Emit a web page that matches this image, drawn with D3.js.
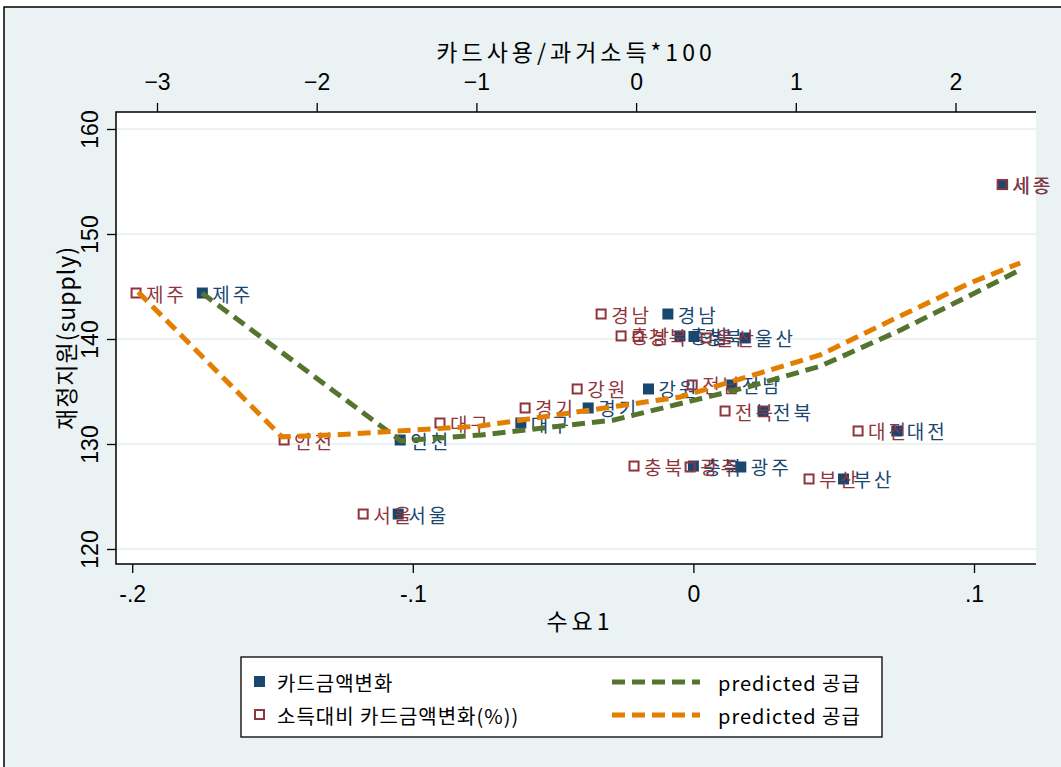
<!DOCTYPE html>
<html>
<head>
<meta charset="utf-8">
<script src="https://cdn.jsdelivr.net/npm/d3@7"></script>
<style>
  body { margin: 0; background: #fff; }
  svg { display: block; }
  .kr { font-family: "Noto Sans CJK KR", "Noto Sans", sans-serif; }
  .num { font-family: "Liberation Sans", Arial, sans-serif; }
</style>
</head>
<body>
<svg id="chart" width="1061" height="767"></svg>
<script>
// region names
const regions = ["제주", "인천", "서울", "대구", "경기", "강원", "경남", "충남", "경북",
  "울산", "전남", "전북", "충북", "광주", "부산", "대전", "세종"];
// 재정지원(supply)
const supply = [144.38, 130.38, 123.33, 132.0, 133.43, 135.24, 142.38, 140.29, 140.24,
  140.1, 135.62, 133.14, 127.9, 127.81, 126.67, 131.24, 154.71];
// 수요1 (bottom axis) -> 카드금액변화
const demand = [-0.175, -0.1045, -0.1052, -0.0615, -0.0375, -0.016, -0.0091, -0.0048, 0.0002,
  0.0184, 0.0137, 0.0248, 0.0, 0.0169, 0.0535, 0.0725, 0.1102];
// 카드사용/과거소득*100 (top axis) -> 소득대비 카드금액변화(%)
const cardRatio = [-3.131, -2.204, -1.709, -1.228, -0.695, -0.369, -0.219, -0.094, 0.013,
  0.438, 0.351, 0.557, -0.013, 0.338, 1.083, 1.39, 2.292];

// predicted 공급 (green, against 수요1)
const predGreenX = [-0.1752, -0.1042, -0.0757, -0.0283, 0.0194, 0.0454, 0.0739, 0.0989, 0.1163];
const predGreenY = [144.38, 130.29, 130.86, 132.29, 135.43, 137.43, 140.86, 144.19, 146.57];
// predicted 공급 (orange, against 카드사용/과거소득*100)
const predOrangeX = [-3.118, -2.217, -1.897, -0.977, 0.276, 1.152, 1.653, 2.091, 2.405];
const predOrangeY = [144.48, 130.67, 130.86, 131.71, 134.48, 138.48, 142.19, 145.33, 147.24];

const bottomTicks = [-0.2, -0.1, 0, 0.1];
const bottomTickLabels = ["-.2", "-.1", "0", ".1"];
const topTicks = [-3, -2, -1, 0, 1, 2];
const yTicks = [120, 130, 140, 150, 160];

const navy = "#1a476f", maroon = "#90353b", green = "#55752f", orange = "#e37e00";
const bg = "#eaf2f3";

const svg = d3.select("#chart");
const plot = { left: 116, right: 1036, top: 112, bottom: 564 };

// outer frame
svg.append("rect").attr("x", 4).attr("y", 7).attr("width", 1080).attr("height", 780)
  .attr("fill", bg).attr("stroke", "#000").attr("stroke-width", 1.5);
svg.append("rect").attr("x", plot.left).attr("y", plot.top)
  .attr("width", plot.right - plot.left).attr("height", plot.bottom - plot.top)
  .attr("fill", "#fff");

const x = d3.scaleLinear().domain([-0.2, 0.1]).range([132.2, 974]);
const x2 = d3.scaleLinear().domain([-3, 2]).range([157, 955.5]);
const y = d3.scaleLinear().domain([120, 160]).range([549, 129]);

// gridlines
svg.append("g").selectAll("line").data(yTicks).join("line")
  .attr("x1", plot.left).attr("x2", plot.right)
  .attr("y1", d => y(d)).attr("y2", d => y(d))
  .attr("stroke", bg).attr("stroke-width", 2);

// axes
const gB = svg.append("g").attr("transform", `translate(0,${plot.bottom})`)
  .call(d3.axisBottom(x).tickValues(bottomTicks).tickFormat((d, i) => bottomTickLabels[i])
    .tickSize(9).tickPadding(13).tickSizeOuter(0));
const gT = svg.append("g").attr("transform", `translate(0,${plot.top})`)
  .call(d3.axisTop(x2).tickValues(topTicks).tickFormat(d3.format("d"))
    .tickSize(9).tickPadding(13).tickSizeOuter(0));
const gL = svg.append("g").attr("transform", `translate(${plot.left},0)`)
  .call(d3.axisLeft(y).tickValues(yTicks).tickSize(9).tickSizeOuter(0));

[gB, gT, gL].forEach(g => {
  g.select(".domain").remove();
  g.selectAll("line").attr("stroke", "#000").attr("stroke-width", 1.3);
  g.selectAll("text").attr("class", "num").attr("font-size", 23).attr("fill", "#000");
});
gL.selectAll("text").attr("transform", "rotate(-90)")
  .attr("x", 0).attr("y", -18).attr("dy", 0).attr("text-anchor", "middle");

// axis lines
svg.append("path")
  .attr("d", `M${plot.right},${plot.top}H${plot.left}V${plot.bottom}H${plot.right}`)
  .attr("fill", "none").attr("stroke", "#000").attr("stroke-width", 1.5);

// axis titles
svg.append("text").attr("class", "kr").attr("x", 576).attr("y", 61)
  .attr("text-anchor", "middle").attr("font-size", 23).attr("letter-spacing", 4)
  .text("카드사용/과거소득*100");
svg.append("text").attr("class", "kr").attr("x", 580).attr("y", 630)
  .attr("text-anchor", "middle").attr("font-size", 23).attr("letter-spacing", 4)
  .text("수요1");
svg.append("text").attr("class", "kr")
  .attr("transform", `translate(75,${(plot.top + plot.bottom) / 2}) rotate(-90)`)
  .attr("text-anchor", "middle").attr("font-size", 23).attr("letter-spacing", 1)
  .text("재정지원(supply)");

const data = regions.map((r, i) => ({ name: r, sup: supply[i], dem: demand[i], ratio: cardRatio[i] }));
const ms = 11;

// series 1: 카드금액변화
const s1 = svg.append("g");
s1.selectAll("rect").data(data).join("rect")
  .attr("x", d => x(d.dem) - ms / 2).attr("y", d => y(d.sup) - ms / 2)
  .attr("width", ms).attr("height", ms).attr("fill", navy);
s1.selectAll("text").data(data).join("text").attr("class", "kr")
  .attr("x", d => x(d.dem) + 10).attr("y", d => y(d.sup))
  .attr("dominant-baseline", "central").attr("font-size", 19).attr("letter-spacing", 3)
  .attr("fill", navy).text(d => d.name);

// series 2: 소득대비 카드금액변화(%)
const s2 = svg.append("g");
s2.selectAll("rect").data(data).join("rect")
  .attr("x", d => x2(d.ratio) - ms / 2 + 1).attr("y", d => y(d.sup) - ms / 2 + 1)
  .attr("width", ms - 2).attr("height", ms - 2)
  .attr("fill", "none").attr("stroke", maroon).attr("stroke-width", 2);
s2.selectAll("text").data(data).join("text").attr("class", "kr")
  .attr("x", d => x2(d.ratio) + 10).attr("y", d => y(d.sup))
  .attr("dominant-baseline", "central").attr("font-size", 19).attr("letter-spacing", 3)
  .attr("fill", maroon).text(d => d.name);

// predicted lines
const lineG = d3.line().x(d => x(d[0])).y(d => y(d[1]));
const lineO = d3.line().x(d => x2(d[0])).y(d => y(d[1]));
svg.append("path").datum(predGreenX.map((v, i) => [v, predGreenY[i]]))
  .attr("d", lineG).attr("fill", "none").attr("stroke", green)
  .attr("stroke-width", 5).attr("stroke-dasharray", "13,7");
svg.append("path").datum(predOrangeX.map((v, i) => [v, predOrangeY[i]]))
  .attr("d", lineO).attr("fill", "none").attr("stroke", orange)
  .attr("stroke-width", 5).attr("stroke-dasharray", "13,7");

// legend
const lg = svg.append("g");
lg.append("rect").attr("x", 241).attr("y", 657).attr("width", 641).attr("height", 80)
  .attr("fill", "#fff").attr("stroke", "#000").attr("stroke-width", 1.3);
lg.append("rect").attr("x", 254).attr("y", 676).attr("width", 11).attr("height", 11).attr("fill", navy);
lg.append("rect").attr("x", 255).attr("y", 710).attr("width", 9).attr("height", 9)
  .attr("fill", "none").attr("stroke", maroon).attr("stroke-width", 2);
lg.append("line").attr("x1", 612).attr("x2", 700).attr("y1", 682).attr("y2", 682)
  .attr("stroke", green).attr("stroke-width", 5).attr("stroke-dasharray", "13,7");
lg.append("line").attr("x1", 612).attr("x2", 700).attr("y1", 715).attr("y2", 715)
  .attr("stroke", orange).attr("stroke-width", 5).attr("stroke-dasharray", "13,7");
const legendText = [
  ["카드금액변화", 277, 682],
  ["소득대비 카드금액변화(%))", 277, 715],
  ["predicted 공급", 718, 682],
  ["predicted 공급", 718, 715]
];
lg.selectAll("text.lt").data(legendText).join("text").attr("class", "kr lt")
  .attr("x", d => d[1]).attr("y", d => d[2]).attr("dominant-baseline", "central")
  .attr("font-size", 20).attr("letter-spacing", 1).text(d => d[0]);
</script>
</body>
</html>
